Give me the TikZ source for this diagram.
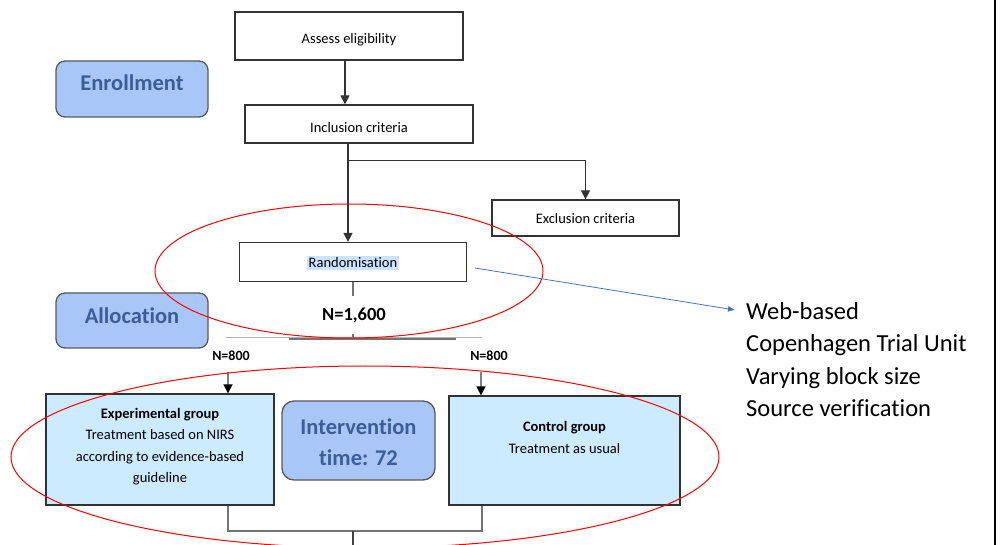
\documentclass[tikz,border=0pt]{standalone}
\usepackage{fontspec}
\setmainfont{Carlito}[Ligatures=NoCommon]
\usetikzlibrary{arrows.meta}
\definecolor{phasefill}{RGB}{169,198,249}
\definecolor{phasetext}{RGB}{60,94,150}
\definecolor{groupfill}{RGB}{204,235,255}
\definecolor{linkblue}{RGB}{68,114,196}
\definecolor{hilite}{RGB}{204,226,255}
\definecolor{boxline}{RGB}{50,50,50}
\newcommand{\shiftit}[2]{\raisebox{#1}[\height][\depth]{#2}}
\begin{document}
\begin{tikzpicture}[x=1pt,y=-1pt,
  box/.style={draw=boxline, line width=1.3pt, fill=white, inner sep=0pt,
    font=\fontsize{14.5}{17}\selectfont},
  phase/.style={draw=black!65, line width=1.3pt, fill=phasefill, rounded corners=9pt,
    inner sep=0pt, text=phasetext, font=\fontsize{22.5}{31}\selectfont\bfseries, align=center},
  group/.style={draw=boxline, line width=1.3pt, fill=groupfill, inner sep=0pt},
  grouptext/.style={font=\fontsize{14.5}{21.5}\selectfont, align=center, inner sep=0pt},
  arr/.style={draw=black!80, line width=1.3pt, -{Triangle[width=9pt,length=9pt]}},
  grayarr/.style={draw=black!50, line width=1.6pt, -{Triangle[width=9pt,length=9pt,fill=black,color=black]}},
  grayline/.style={draw=black!55, line width=2pt},
  oval/.style={draw=red, line width=1pt},
]
\useasboundingbox (0,0) rectangle (1002,545);

% main flow boxes
\node[box, minimum width=228pt, minimum height=48pt] (assess) at (349,36) {\shiftit{-4pt}{Assess eligibility}};
\node[box, minimum width=228pt, minimum height=38pt] (incl) at (359,124) {\shiftit{-4pt}{Inclusion criteria}};
\node[box, minimum width=187pt, minimum height=36pt] (excl) at (585.5,218) {\shiftit{-1pt}{Exclusion criteria}};
\node[box, minimum width=227pt, minimum height=39pt] (rand) at (353,262)
  {\shiftit{-1pt}{{\fboxsep=1.5pt\colorbox{hilite}{Randomisation}}}};

% phase labels
\node[phase, minimum width=152pt, minimum height=56pt] (enroll) at (132,89) {\shiftit{6pt}{Enrollment}};
\node[phase, minimum width=152pt, minimum height=55pt] (alloc) at (132,320.5) {\shiftit{5pt}{Allocation}};

% arrows top
\draw[arr] ([xshift=-4pt]assess.south) -- ([xshift=-4pt]assess.south |- incl.north);
\draw[arr] ([xshift=-11pt]incl.south) -- ([xshift=-11pt]incl.south |- rand.north);
\draw[arr] ([xshift=-11pt]incl.south) ++(0,17) -| (excl.north);

% randomisation split
\node[inner sep=0pt, minimum height=37pt, font=\fontsize{18.5}{20}\selectfont\bfseries] (n1600) at (354,315) {N=1,600};
\coordinate (split) at (353,338);
\draw[grayline] (rand.south) -- (rand.south |- n1600.north);
\draw[grayline] (rand.south |- n1600.south) -- (split);
\coordinate (hl) at (226,338);
\coordinate (hr) at (482,338);
\draw[draw=black!30, line width=1pt] (hl) -- (hr);
\coordinate (tl) at (289,339.5);
\coordinate (tr) at (456,339.5);
\draw[draw=black!55, line width=2pt] (tl) -- (tr);

\node[font=\fontsize{14}{16}\selectfont\bfseries, inner sep=0pt] (nl) at (231,356) {N=800};
\node[font=\fontsize{14}{16}\selectfont\bfseries, inner sep=0pt] (nr) at (489,356) {N=800};

% groups
\node[group, minimum width=228pt, minimum height=111pt] (exp) at (160,449.5) {};
\node[grouptext] (exptext) at (160,446.5) {\textbf{Experimental group}\\Treatment based on NIRS\\according to evidence-based\\guideline};
\node[group, minimum width=231pt, minimum height=109pt] (ctrl) at (564.5,450.5) {};
\node[grouptext] (ctrltext) at (564.5,437.5) {\textbf{Control group}\\Treatment as usual};
\node[phase, minimum width=153pt, minimum height=79pt, rounded corners=12pt] (interv) at (358.5,440.5) {};
\node[inner sep=0pt, align=center, text=phasetext, font=\fontsize{22.5}{31}\selectfont\bfseries] (intervtext) at (358.5,442.5)
  {Intervention\\time: 72};

\coordinate (al) at (228,372);
\coordinate (ar) at (481,372);
\draw[grayarr] (al) -- (al |- exp.north);
\draw[grayarr] (ar) -- (ar |- ctrl.north);

% bottom join
\coordinate (bl) at (228,531);
\coordinate (br) at (482,531);
\coordinate (bc) at (353,531);
\coordinate (bend) at (353,545);
\draw[grayline, line width=1.8pt] (bl |- exp.south) -- (bl) -- (br) -- (br |- ctrl.south);
\draw[draw=black!75, line width=1.8pt] (bc) -- (bend);

% red ovals
\draw[oval] (349,271) ellipse [x radius=194, y radius=67];
\draw[oval] (365,457) ellipse [x radius=354, y radius=91];

% web note
\node[anchor=west, align=left, inner sep=0pt, font=\fontsize{24.5}{32.3}\selectfont] (note) at (746,359.5)
  {Web-based\\Copenhagen Trial Unit\\Varying block size\\Source verification};
\coordinate (blstart) at (475,268);
\draw[draw=linkblue, line width=0.8pt, -{Latex[length=7pt,width=6pt]}] (blstart) -- ([xshift=-11pt,yshift=49.5pt]note.west);

% right border line
\coordinate (rtop) at (995,0);
\coordinate (rbot) at (995,545);
\draw[line width=2pt] (rtop) -- (rbot);
\end{tikzpicture}
\end{document}
